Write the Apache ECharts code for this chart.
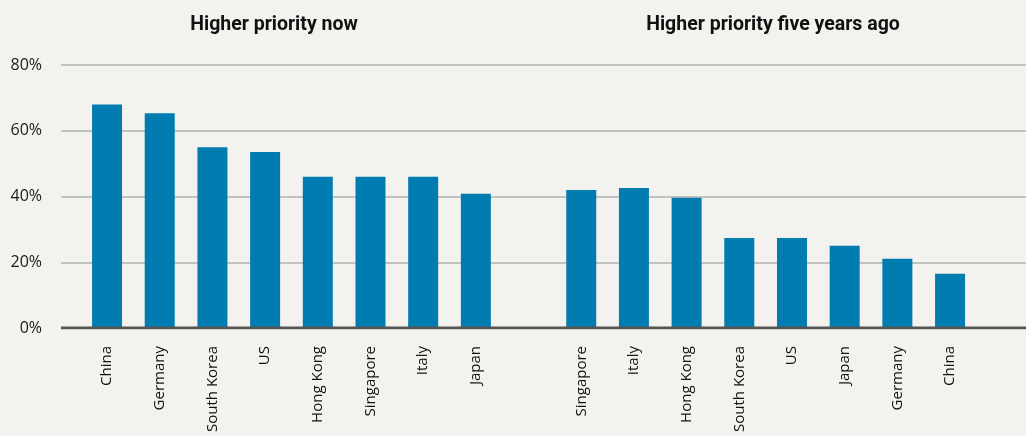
<!DOCTYPE html>
<html>
<head>
    <meta charset="utf-8">
    <title>Priority</title>
    <script src="https://cdn.jsdelivr.net/npm/echarts@6/dist/echarts.min.js"></script>
    <style>
        body { margin: 0; background: #f3f2ee; }
    </style>
</head>
<body>
    <div id="main" style="width: 1026px;height:436px;"></div>
    <script type="text/javascript">
        // 数据
        let nowCountries = ['China', 'Germany', 'South Korea', 'US', 'Hong Kong', 'Singapore', 'Italy', 'Japan']
        let nowValues = [68, 65.3, 55, 53.5, 46, 46, 46, 40.8]
        let agoCountries = ['Singapore', 'Italy', 'Hong Kong', 'South Korea', 'US', 'Japan', 'Germany', 'China']
        let agoValues = [42, 42.6, 39.6, 27.4, 27.4, 25, 21.1, 16.5]
        let yTicks = [0, 20, 40, 60, 80]

        // 两组之间空一格
        let categories = nowCountries.concat([''], agoCountries)
        let values = nowValues.concat(['-'], agoValues)

        let myChart = echarts.init(document.getElementById('main'));

        let titleStyle = { fontFamily: 'Roboto', fontWeight: 'bold', fontSize: 19.5, color: '#111' }

        let option = {
            backgroundColor: '#f3f2ee',
            animation: false,
            title: [
                { text: 'Higher priority now', left: 269, top: 10, textAlign: 'center', textStyle: titleStyle },
                { text: 'Higher priority five years ago', left: 768, top: 10, textAlign: 'center', textStyle: titleStyle }
            ],
            grid: [
                // 网格线和y轴标签
                { left: 61, right: 0, top: 65, bottom: 108 },
                // 柱子
                { left: 80.7, width: 895.7, top: 65, bottom: 108 }
            ],
            xAxis: [
                {
                    gridIndex: 0, type: 'value', min: 0, max: 1,
                    axisLine: { show: false }, axisTick: { show: false },
                    axisLabel: { show: false }, splitLine: { show: false }
                },
                {
                    gridIndex: 1, type: 'category', data: categories,
                    axisLine: { show: false }, axisTick: { show: false },
                    axisLabel: {
                        rotate: 90, margin: 18, interval: 0,
                        fontFamily: 'Open Sans', fontSize: 15, color: '#111'
                    }
                }
            ],
            yAxis: [
                {
                    gridIndex: 0, type: 'value', min: yTicks[0], max: yTicks[yTicks.length - 1], interval: 20,
                    axisLine: { show: false }, axisTick: { show: false },
                    axisLabel: {
                        margin: 19, fontFamily: 'Open Sans', fontSize: 16, color: '#1a1a1a',
                        formatter: v => v + '%'
                    },
                    splitLine: {
                        lineStyle: { color: '#c2c2c0', width: 2 }
                    }
                },
                {
                    gridIndex: 1, type: 'value', min: 0, max: 80, show: false
                }
            ],
            series: [
                {
                    type: 'bar',
                    xAxisIndex: 1, yAxisIndex: 1,
                    barWidth: 30,
                    itemStyle: { color: '#007cb0' },
                    data: values
                },
                {
                    // 零线
                    type: 'line',
                    xAxisIndex: 0, yAxisIndex: 0,
                    data: [[0, 0], [1, 0]],
                    symbol: 'none',
                    lineStyle: { color: '#555555', width: 3 },
                    z: 5
                }
            ]
        };

        myChart.setOption(option);
    </script>
</body>
</html>
